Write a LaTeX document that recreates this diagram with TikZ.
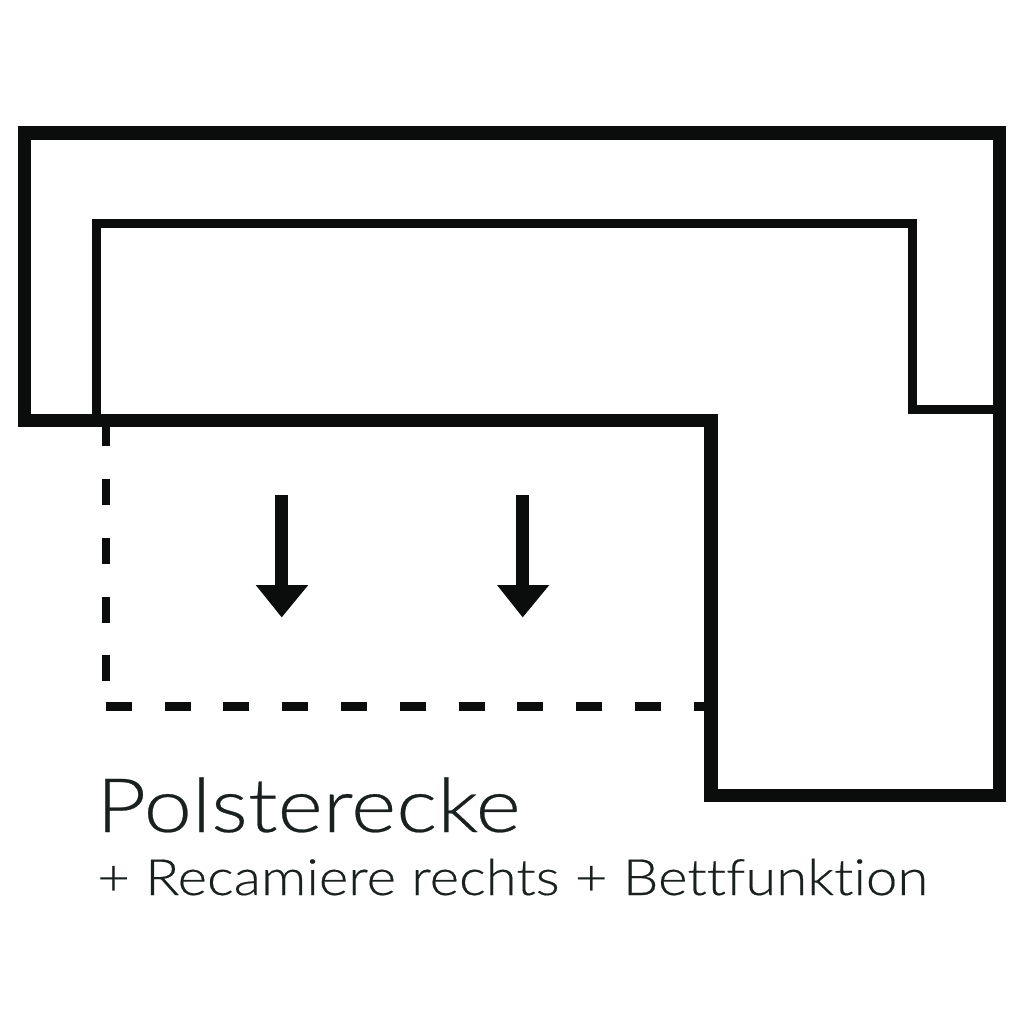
\documentclass[tikz,border=0pt]{standalone}
\usepackage{fontspec}
\newfontfamily\bigfont[FakeStretch=1.155,FakeBold=0.35,Ligatures={NoCommon,NoRare}]{Lato Light}
\newfontfamily\smallfont[FakeStretch=1.127,FakeBold=0.35,Ligatures={NoCommon,NoRare}]{Lato Light}
\definecolor{ink}{HTML}{0A0D0C}
\definecolor{textink}{HTML}{1A2020}
\tikzset{
  outerline/.style={draw=ink,line width=13.2pt,line join=miter},
  innerline/.style={draw=ink,line width=9pt,line join=miter},
  dashline/.style={draw=ink,line width=8.8pt,dash pattern=on 26pt off 32.8pt},
  arrowshaft/.style={draw=ink,line width=13pt},
  arrowtip/.style={fill=ink},
  label/.style={anchor=base west,inner sep=0pt,text=textink},
}
\begin{document}
\begin{tikzpicture}[x=1pt,y=-1pt]
\useasboundingbox (0,0) rectangle (1024,1024);
\fill[white] (0,0) rectangle (1024,1024);
\draw[outerline] (999.6,427) -- (999.6,133) -- (24.5,133) -- (24.5,420.5) -- (711,420.5) -- (711,795.7) -- (999.2,795.7) -- (999.2,410);
\draw[innerline] (96.5,421) -- (96.5,223.7) -- (912.4,223.7) -- (912.4,409.7) -- (999,409.7);
\draw[dashline] (106,420.2) -- (106,681.2);
\draw[dashline] (105.7,706.7) -- (711,706.7);
\coordinate (a1) at (281.6,495.3); \coordinate (a1e) at (281.6,590);
\coordinate (a2) at (522.7,495.3); \coordinate (a2e) at (522.7,590);
\draw[arrowshaft] (a1) -- (a1e);
\draw[arrowshaft] (a2) -- (a2e);
\fill[arrowtip] (255.7,585) -- (308.3,585) -- (281.7,617.3) -- cycle;
\fill[arrowtip] (497,585) -- (549.3,585) -- (522.7,617.3) -- cycle;
\node[label,font=\bigfont\fontsize{75}{75}\selectfont] (t1) at (96,832) {Polsterecke};
\node[label,font=\smallfont\fontsize{50}{50}\selectfont] (t2) at (97,895) {+ Recamiere rechts + Bettfunktion};
\end{tikzpicture}
\end{document}
